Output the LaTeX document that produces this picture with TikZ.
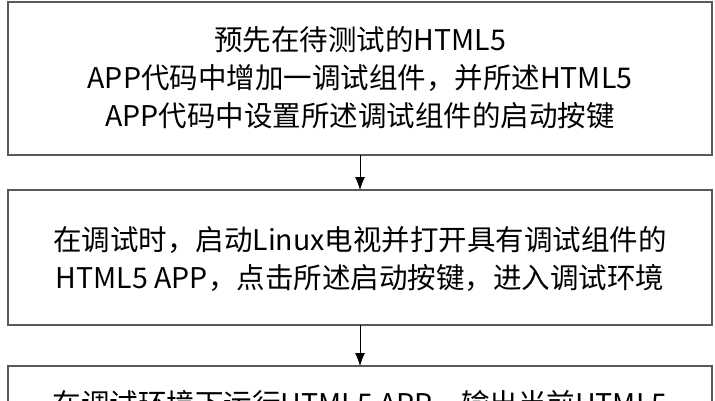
\documentclass[tikz,border=0pt]{standalone}
\usepackage{fontspec}
\setmainfont{Noto Sans CJK SC}
\begin{document}
\begin{tikzpicture}[x=1pt,y=-1pt,
  stepbox/.style={draw=black!65,line width=1.2pt},
  txt/.style={font=\fontsize{28.5}{38}\selectfont,align=center,inner sep=0pt},
  arr/.style={-{Latex[length=13pt,width=10pt]},line width=0.8pt}]
\usetikzlibrary{arrows.meta}
\useasboundingbox (0,0) rectangle (715,400);
\begin{scope}
\clip (0,0) rectangle (715,400);
\draw[stepbox] (8,2) rectangle (712,155);
\node[txt] (t1) at (360,78) {预先在待测试的HTML5\\APP代码中增加一调试组件，并所述HTML5\\APP代码中设置所述调试组件的启动按键};
\draw[stepbox] (8,190) rectangle (712,325);
\node[txt] (t2) at (360,259) {在调试时，启动Linux电视并打开具有调试组件的\\HTML5 APP，点击所述启动按键，进入调试环境};
\draw[stepbox] (8,366) rectangle (712,480);
\node[txt,anchor=center] (t3) at (360,404) {在调试环境下运行HTML5 APP，输出当前HTML5};
\coordinate (a1) at (360,155); \coordinate (b1) at (360,190);
\coordinate (a2) at (360,325); \coordinate (b2) at (360,366);
\draw[arr] (a1) -- (b1);
\draw[arr] (a2) -- (b2);
\end{scope}
\end{tikzpicture}
\end{document}
